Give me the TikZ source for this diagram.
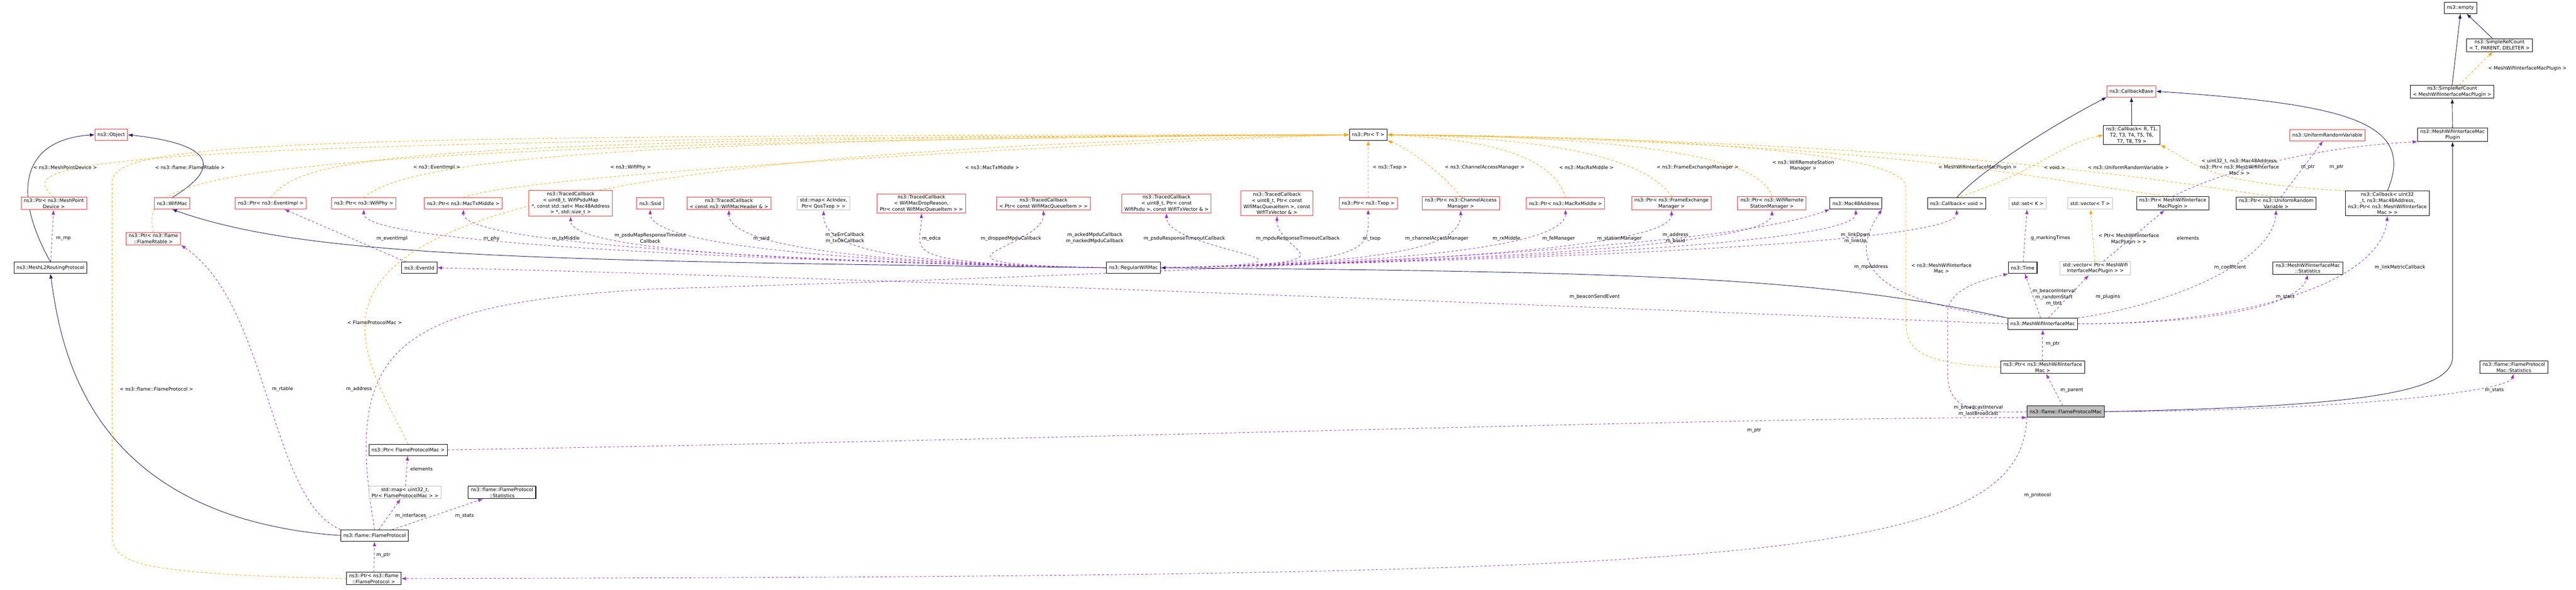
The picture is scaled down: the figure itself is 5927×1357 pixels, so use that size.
\documentclass[tikz,border=0pt]{standalone}
\usepackage{fontspec}
\setmainfont{DejaVu Sans}
\usetikzlibrary{arrows.meta,backgrounds}
\pgfdeclarelayer{background}
\pgfsetlayers{background,main}
\definecolor{edgeblue}{HTML}{191970}
\definecolor{edgepurple}{HTML}{9A32CD}
\definecolor{edgeorange}{HTML}{FFA500}
\definecolor{boxred}{HTML}{FF3030}
\definecolor{boxgray}{HTML}{BFBFBF}

\begin{document}
\begin{tikzpicture}
[
x=1pt, y=-1pt,
style0/.style={rectangle, draw=black, line width=1.2pt, fill=white, align=center, inner xsep=6pt, inner ysep=3pt, minimum height=26pt, font=\fontsize{11}{14}\selectfont},
style1/.style={style0, draw=boxred},
style2/.style={style0, draw=boxgray},
style3/.style={style0, fill=boxgray},
edge0/.style={draw=edgeblue, line width=1.1pt, -{Latex[length=11pt,width=8pt]}},
edge1/.style={draw=edgepurple, line width=1.1pt, dash pattern=on 5pt off 5pt, -{Latex[length=11pt,width=8pt]}},
edge2/.style={draw=edgeorange, line width=1.1pt, dash pattern=on 5pt off 5pt, -{Latex[length=11pt,width=8pt]}},
lbl/.style={align=center, inner sep=1pt, font=\fontsize{11}{14}\selectfont}
]
\useasboundingbox (0,0) rectangle (5927,1357);
% classes
\node (obj) [style1] at (256,310) {ns3::Object};
\node (mlrp) [style0] at (116,616) {ns3::MeshL2RoutingProtocol};
\node (pmpd) [style1] at (124,468) {ns3::Ptr< ns3::MeshPoint\\Device >};
\node (wmac) [style1] at (396,468) {ns3::WifiMac};
\node (pfrt) [style1] at (353,549) {ns3::Ptr< ns3::flame\\::FlameRtable >};
\node (pei) [style1] at (623,468) {ns3::Ptr< ns3::EventImpl >};
\node (pphy) [style1] at (837,468) {ns3::Ptr< ns3::WifiPhy >};
\node (ptxm) [style1] at (1066,468) {ns3::Ptr< ns3::MacTxMiddle >};
\node (tcpsdumap) [style1] at (1313,468) {ns3::TracedCallback\\< uint8\_t, WifiPsduMap\\*, const std::set< Mac48Address\\> *, std::size\_t >};
\node (ssid) [style1] at (1496,468) {ns3::Ssid};
\node (tchdr) [style1] at (1677,468) {ns3::TracedCallback\\< const ns3::WifiMacHeader \& >};
\node (edca) [style2] at (1895,468) {std::map< AcIndex,\\Ptr< QosTxop > >};
\node (tcdrop) [style1] at (2120,468) {ns3::TracedCallback\\< WifiMacDropReason,\\Ptr< const WifiMacQueueItem > >};
\node (tcmpdu) [style1] at (2401,468) {ns3::TracedCallback\\< Ptr< const WifiMacQueueItem > >};
\node (tcpsdu) [style1] at (2684,468) {ns3::TracedCallback\\< uint8\_t, Ptr< const\\WifiPsdu >, const WifiTxVector \& >};
\node (tcresp) [style1] at (2938,468) {ns3::TracedCallback\\< uint8\_t, Ptr< const\\WifiMacQueueItem >, const\\WifiTxVector \& >};
\node (ptxop) [style1] at (3148,468) {ns3::Ptr< ns3::Txop >};
\node (ptrT) [style0] at (3148,310) {ns3::Ptr< T >};
\node (pcam) [style1] at (3361,468) {ns3::Ptr< ns3::ChannelAccess\\Manager >};
\node (prxm) [style1] at (3602,468) {ns3::Ptr< ns3::MacRxMiddle >};
\node (pfem) [style1] at (3846,468) {ns3::Ptr< ns3::FrameExchange\\Manager >};
\node (prsm) [style1] at (4077,468) {ns3::Ptr< ns3::WifiRemote\\StationManager >};
\node (mac48) [style0] at (4270,468) {ns3::Mac48Address};
\node (cbvoid) [style0] at (4502,468) {ns3::Callback< void >};
\node (sset) [style2] at (4665,468) {std::set< K >};
\node (svec) [style2] at (4809,468) {std::vector< T >};
\node (pplug) [style0] at (4999,468) {ns3::Ptr< MeshWifiInterface\\MacPlugin >};
\node (purv) [style0] at (5237,468) {ns3::Ptr< ns3::UniformRandom\\Variable >};
\node (cbmesh) [style0] at (5493,468) {ns3::Callback< uint32\\\_t, ns3::Mac48Address,\\ns3::Ptr< ns3::MeshWifiInterface\\Mac > >};
\node (empty) [style0] at (5661,18) {ns3::empty};
\node (srcT) [style0] at (5751,104) {ns3::SimpleRefCount\\< T, PARENT, DELETER >};
\node (srcM) [style0] at (5642,211) {ns3::SimpleRefCount\\< MeshWifiInterfaceMacPlugin >};
\node (plugin) [style0] at (5643,310) {ns3::MeshWifiInterfaceMac\\Plugin};
\node (cbbase) [style1] at (4904,210) {ns3::CallbackBase};
\node (cbR) [style0] at (4905,311) {ns3::Callback< R, T1,\\T2, T3, T4, T5, T6,\\T7, T8, T9 >};
\node (urv) [style1] at (5355,311) {ns3::UniformRandomVariable};
\node (eid) [style0] at (965,616) {ns3::EventId};
\node (rwm) [style0] at (2608,616) {ns3::RegularWifiMac};
\node (time) [style0] at (4654,616) {ns3::Time};
\node (pvec) [style2] at (4821,617) {std::vector< Ptr< MeshWifi\\InterfaceMacPlugin > >};
\node (mstats) [style0] at (5310,617) {ns3::MeshWifiInterfaceMac\\::Statistics};
\node (mwim) [style0] at (4700,745) {ns3::MeshWifiInterfaceMac};
\node (pmwim) [style0] at (4700,845) {ns3::Ptr< ns3::MeshWifiInterface\\Mac >};
\node (fpm) [style3] at (4753,947) {ns3::flame::FlameProtocolMac};
\node (fpmstats) [style0] at (5784,845) {ns3::flame::FlameProtocol\\Mac::Statistics};
\node (pfpm) [style0] at (939,1035) {ns3::Ptr< FlameProtocolMac >};
\node (fpmap) [style2] at (932,1133) {std::map< uint32\_t,\\Ptr< FlameProtocolMac > >};
\node (fpstats) [style0] at (1155,1133) {ns3::flame::FlameProtocol\\::Statistics};
\node (fp) [style0] at (862,1232) {ns3::flame::FlameProtocol};
\node (pfp) [style0] at (860,1331) {ns3::Ptr< ns3::flame\\::FlameProtocol >};

\begin{pgfonlayer}{background}
% inheritance
\draw[edge0] (mlrp.north) .. controls (20,430) and (60,320) .. (obj.west);
\draw[edge0] (wmac.north) .. controls (520,380) and (480,330) .. (obj.east);
\draw[edge0] (rwm.west) .. controls (1200,600) and (700,590) .. (wmac.south);
\draw[edge0] (mwim.north west) .. controls (4200,640) and (3800,625) .. (rwm.east);
\draw[edge0] (fp.west) .. controls (200,1190) and (140,800) .. (mlrp.south);
\draw[edge0] (fpm.east) .. controls (5450,935) and (5643,900) .. (5643,820) -- (plugin.south);
\draw[edge0] (plugin) -- (srcM);
\draw[edge0] (srcM.north) -- (empty.south);
\draw[edge0] (srcT) -- (empty);
\draw[edge0] (cbvoid.north) .. controls (4550,400) and (4700,300) .. (cbbase.south west);
\draw[edge0] (cbR) -- (cbbase);
\draw[edge0] (cbmesh.north) .. controls (5560,280) and (5400,240) .. (cbbase.east);
% templates
\draw[edge2] (pmpd.north) .. controls (40,380) and (60,320) .. (ptrT.west);
\draw[edge2] (pfrt.north) .. controls (330,420) and (330,330) .. (ptrT.west);
\draw[edge2] (pfp.west) .. controls (270,1320) and (258,1290) .. (258,1220) -- (258,420) .. controls (258,330) and (600,310) .. (ptrT.west);
\draw[edge2] (pfpm.north) .. controls (780,700) and (480,360) .. (ptrT.west);
\draw[edge2] (pei.north) .. controls (700,360) and (900,320) .. (ptrT.west);
\draw[edge2] (pphy.north) .. controls (950,360) and (1500,320) .. (ptrT.west);
\draw[edge2] (ptxm.north) .. controls (1200,400) and (2500,330) .. (ptrT.west);
\draw[edge2] (ptxop) -- (ptrT);
\draw[edge2] (pcam.north) .. controls (3320,400) and (3240,340) .. (ptrT.south east);
\draw[edge2] (prxm.north) .. controls (3570,350) and (3400,320) .. (ptrT.east);
\draw[edge2] (pfem.north) .. controls (3780,350) and (3500,315) .. (ptrT.east);
\draw[edge2] (prsm.north) .. controls (4050,340) and (3600,312) .. (ptrT.east);
\draw[edge2] (pmwim.west) .. controls (4400,835) and (4385,800) .. (4385,730) -- (4385,430) .. controls (4385,340) and (3700,312) .. (ptrT.east);
\draw[edge2] (pplug.north) .. controls (4700,420) and (4460,330) .. (ptrT.east);
\draw[edge2] (purv.north) .. controls (5000,420) and (4500,325) .. (ptrT.east);
\draw[edge2] (cbvoid.north) .. controls (4680,400) and (4740,330) .. (cbR.west);
\draw[edge2] (cbmesh.north west) .. controls (5070,420) and (5060,380) .. (cbR.south east);
\draw[edge2] (srcM) -- (srcT);
\draw[edge2] (pvec) -- (svec);
% members
\draw[edge1] (mlrp) -- (pmpd);
\draw[edge1] (eid) -- (pei);
\foreach \target in {pphy,ptxm,tcpsdumap,ssid,tchdr,edca,tcdrop,tcmpdu}
  \draw[edge1] (rwm.west) .. controls +(-500,-10) and +(0,90) .. (\target.south);
\foreach \target in {tcpsdu,tcresp,ptxop,pcam,prxm,pfem,prsm,mac48,cbvoid}
  \draw[edge1] (rwm.east) .. controls +(500,-10) and +(0,90) .. (\target.south);
\draw[edge1] (mwim.north west) .. controls (4300,690) and (4250,600) .. (mac48.south east);
\draw[edge1] (mwim.west) .. controls (3500,700) and (2000,640) .. (eid.east);
\draw[edge1] (mwim) -- (time);
\draw[edge1] (mwim) -- (pvec);
\draw[edge1] (mwim.east) .. controls (5100,745) and (5290,700) .. (mstats.south);
\draw[edge1] (mwim.east) .. controls (5200,745) and (5480,640) .. (cbmesh.south);
\draw[edge1] (mwim.north east) .. controls (5000,700) and (5230,600) .. (purv.south);
\draw[edge1] (time) -- (sset);
\draw[edge1] (pvec) -- (pplug);
\draw[edge1] (pplug.north) .. controls (5100,400) and (5300,340) .. (plugin.south west);
\draw[edge1] (purv) -- (urv);
\draw[edge1] (pmwim) -- (mwim);
\draw[edge1] (fpm) -- (pmwim);
\draw[edge1] (fpm.east) .. controls (5400,945) and (5770,900) .. (fpmstats.south);
\draw[edge1] (fpm.west) .. controls (4500,955) and (4481,920) .. (4481,850) -- (4481,720) .. controls (4481,660) and (4580,640) .. (time.south west);
\draw[edge1] (pfpm.east) .. controls (2500,1010) and (4000,960) .. (fpm.south west);
\draw[edge1] (fpm.south west) .. controls (4650,1300) and (4000,1325) .. (pfp.east);
\draw[edge1] (fp.north west) .. controls (620,1150) and (620,700) .. (pfrt.south east);
\draw[edge1] (fp.north) .. controls (790,800) and (900,700) .. (1500,665) .. controls (3300,610) and (4000,560) .. (mac48.south west);
\draw[edge1] (fp) -- (fpmap);
\draw[edge1] (fp) -- (fpstats);
\draw[edge1] (fpmap) -- (pfpm);
\draw[edge1] (pfp) -- (fp);
\end{pgfonlayer}

% template labels
\node (t1) [lbl] at (150,385) {< ns3::MeshPointDevice >};
\node (t2) [lbl] at (437,385) {< ns3::flame::FlameRtable >};
\node (t3) [lbl] at (1005,385) {< ns3::EventImpl >};
\node (t4) [lbl] at (1451,385) {< ns3::WifiPhy >};
\node (t5) [lbl] at (2283,385) {< ns3::MacTxMiddle >};
\node (t6) [lbl] at (3198,385) {< ns3::Txop >};
\node (t7) [lbl] at (3416,385) {< ns3::ChannelAccessManager >};
\node (t8) [lbl] at (3650,385) {< ns3::MacRxMiddle >};
\node (t9) [lbl] at (3906,385) {< ns3::FrameExchangeManager >};
\node (t10) [lbl] at (4149,381) {< ns3::WifiRemoteStation\\Manager >};
\node (t11) [lbl] at (4550,385) {< MeshWifiInterfaceMacPlugin >};
\node (t12) [lbl] at (4727,385) {< void >};
\node (t13) [lbl] at (4897,385) {< ns3::UniformRandomVariable >};
\node (t14) [lbl] at (5153,384) {< uint32\_t, ns3::Mac48Address,\\ns3::Ptr< ns3::MeshWifiInterface\\Mac > >};
\node (t15) [lbl] at (5815,157) {< MeshWifiInterfaceMacPlugin >};
\node (t16) [lbl] at (4898,550) {< Ptr< MeshWifiInterface\\MacPlugin > >};
\node (t17) [lbl] at (4467,617) {< ns3::MeshWifiInterface\\Mac >};
\node (t18) [lbl] at (862,742) {< FlameProtocolMac >};
\node (t19) [lbl] at (360,895) {< ns3::flame::FlameProtocol >};
% member labels
\node (m1) [lbl] at (146,549) {m\_mp};
\node (m2) [lbl] at (902,549) {m\_eventImpl};
\node (m3) [lbl] at (1131,549) {m\_phy};
\node (m4) [lbl] at (1302,549) {m\_txMiddle};
\node (m5) [lbl] at (1496,548) {m\_psduMapResponseTimeout\\Callback};
\node (m6) [lbl] at (1752,549) {m\_ssid};
\node (m7) [lbl] at (1944,548) {m\_txErrCallback\\m\_txOkCallback};
\node (m8) [lbl] at (2143,549) {m\_edca};
\node (m9) [lbl] at (2326,549) {m\_droppedMpduCallback};
\node (m10) [lbl] at (2519,548) {m\_ackedMpduCallback\\m\_nackedMpduCallback};
\node (m11) [lbl] at (2725,549) {m\_psduResponseTimeoutCallback};
\node (m12) [lbl] at (2986,549) {m\_mpduResponseTimeoutCallback};
\node (m13) [lbl] at (3156,549) {m\_txop};
\node (m14) [lbl] at (3306,549) {m\_channelAccessManager};
\node (m15) [lbl] at (3466,549) {m\_rxMiddle};
\node (m16) [lbl] at (3586,549) {m\_feManager};
\node (m17) [lbl] at (3726,549) {m\_stationManager};
\node (m18) [lbl] at (3855,548) {m\_address\\m\_bssid};
\node (m19) [lbl] at (4269,548) {m\_linkDown\\m\_linkUp};
\node (m20) [lbl] at (4305,614) {m\_mpAddress};
\node (m21) [lbl] at (3669,683) {m\_beaconSendEvent};
\node (m22) [lbl] at (4718,548) {g\_markingTimes};
\node (m23) [lbl] at (5034,548) {elements};
\node (m24) [lbl] at (5310,385) {m\_ptr};
\node (m25) [lbl] at (5376,385) {m\_ptr};
\node (m26) [lbl] at (5131,615) {m\_coefficient};
\node (m27) [lbl] at (5522,615) {m\_linkMetricCallback};
\node (m28) [lbl] at (4726,684) {m\_beaconInterval\\m\_randomStart\\m\_tbtt};
\node (m29) [lbl] at (4850,683) {m\_plugins};
\node (m30) [lbl] at (5258,683) {m\_stats};
\node (m31) [lbl] at (4723,791) {m\_ptr};
\node (m32) [lbl] at (4767,898) {m\_parent};
\node (m33) [lbl] at (5739,898) {m\_stats};
\node (m34) [lbl] at (4552,945) {m\_broadcastInterval\\m\_lastBroadcast};
\node (m35) [lbl] at (4036,990) {m\_ptr};
\node (m36) [lbl] at (4688,1139) {m\_protocol};
\node (m37) [lbl] at (650,895) {m\_rtable};
\node (m38) [lbl] at (826,895) {m\_address};
\node (m39) [lbl] at (970,1079) {elements};
\node (m40) [lbl] at (945,1187) {m\_interfaces};
\node (m41) [lbl] at (1069,1187) {m\_stats};
\node (m42) [lbl] at (882,1277) {m\_ptr};
\end{tikzpicture}
\end{document}
